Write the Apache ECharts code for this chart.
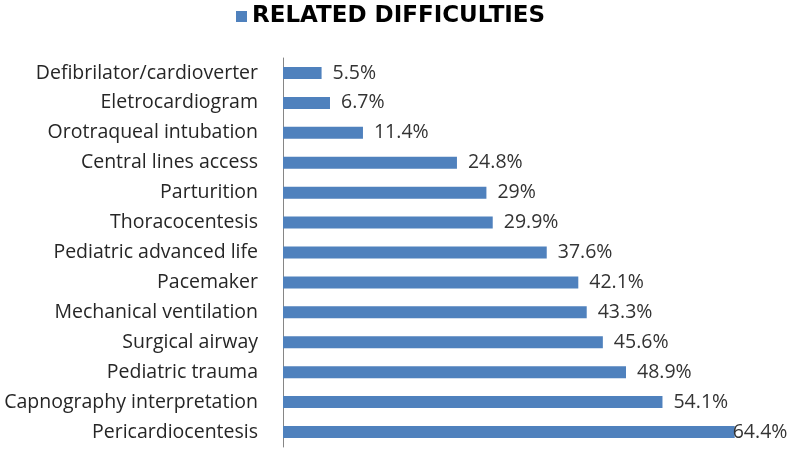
<!DOCTYPE html>
<html><head><meta charset="utf-8">
<script src="https://cdn.jsdelivr.net/npm/echarts@6/dist/echarts.min.js"></script>
<style>html,body{margin:0;padding:0;background:#fff}#c{width:796px;height:452px}</style>
</head><body><div id="c"></div>
<script>
const categories = ["Defibrilator/cardioverter","Eletrocardiogram","Orotraqueal intubation","Central lines access","Parturition","Thoracocentesis","Pediatric advanced life","Pacemaker","Mechanical ventilation","Surgical airway","Pediatric trauma","Capnography interpretation","Pericardiocentesis"];
const values = [5.5,6.7,11.4,24.8,29,29.9,37.6,42.1,43.3,45.6,48.9,54.1,64.4];
const seriesName = "RELATED DIFFICULTIES";
const font = "Open Sans";
const chart = echarts.init(document.getElementById('c'));
const data = values.map((v,i)=> i===values.length-1 ? {value:v,label:{distance:-2}} : v);
chart.setOption({
  animation:false,
  legend:{top:0,left:231,itemWidth:11,itemHeight:11,icon:'rect',itemGap:9,
    textStyle:{fontFamily:'DejaVu Sans',fontWeight:'bold',fontSize:23,color:'#000'}},
  grid:{left:283,right:22,top:58,bottom:5,containLabel:false,outerBoundsMode:'none'},
  xAxis:{type:'value',min:0,max:70,show:false},
  yAxis:{type:'category',data:categories,inverse:true,
    axisLine:{show:true,lineStyle:{color:'#868686',width:1}},
    axisTick:{show:false},
    axisLabel:{fontFamily:font,fontSize:19.5,color:'#262626',margin:25}},
  series:[{name:seriesName,type:'bar',data:data,barWidth:12,
    itemStyle:{color:'#4F81BD'},
    label:{show:true,position:'right',distance:11,fontFamily:font,fontSize:19.5,color:'#333',
      formatter:p=>p.value+'%'}}]
});
</script></body></html>
